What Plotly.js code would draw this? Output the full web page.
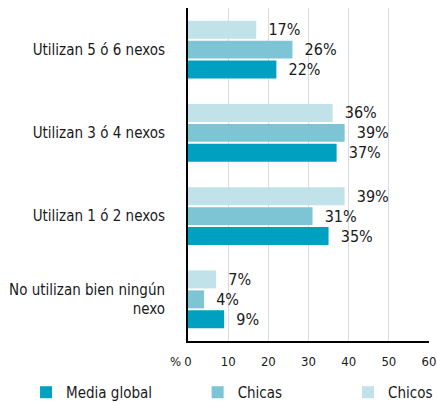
<!DOCTYPE html>
<html>
<head>
<meta charset="utf-8">
<script src="https://cdn.plot.ly/plotly-3.0.1.min.js"></script>
<style>html,body{margin:0;padding:0;background:#fff;}#chart{width:437px;height:403px;}</style>
</head>
<body>
<div id="chart"></div>
<script>
const categories = ['No utilizan bien ningún<br>nexo', 'Utilizan 1 ó 2 nexos', 'Utilizan 3 ó 4 nexos', 'Utilizan 5 ó 6 nexos'];
const seriesNames = ['Media global', 'Chicas', 'Chicos'];
const mediaGlobal = [9, 35, 37, 22];
const chicas = [4, 31, 39, 26];
const chicos = [7, 39, 36, 17];
const xTicks = [0, 10, 20, 30, 40, 50, 60];

const colors = ['#00a0c0', '#7dc5d5', '#c1e2e9'];
const values = [mediaGlobal, chicas, chicos];
const legendIds = ['legend', 'legend2', 'legend3'];
const legendX = [-0.672, 0.04, 0.664];
const FONT = 'DejaVu Sans Condensed, DejaVu Sans, sans-serif';

const traces = values.map((v, i) => ({
  type: 'bar',
  orientation: 'h',
  name: seriesNames[i],
  legend: legendIds[i],
  y: categories,
  x: v,
  marker: {color: colors[i]},
  text: v.map(d => '\u00a0\u00a0' + d + '%'),
  texttemplate: '%{text}',
  textposition: 'outside',
  constraintext: 'none',
  cliponaxis: false,
  textfont: {family: FONT, size: 16, color: '#1a1a1a'},
  hoverinfo: 'none'
}));

const layout = {
  width: 437, height: 403,
  margin: {l: 188, r: 8, t: 8, b: 62, autoexpand: false},
  paper_bgcolor: '#fff', plot_bgcolor: '#fff',
  font: {family: FONT, size: 13, color: '#1a1a1a'},
  barmode: 'group',
  bargap: 0.28,
  bargroupgap: 0.1,
  showlegend: true,
  xaxis: {range: [0, 60], tickvals: xTicks, ticktext: xTicks.map(String),
    showgrid: true, gridcolor: '#dcdcdc', gridwidth: 1,
    showline: true, linecolor: '#000', linewidth: 1.5, zeroline: false,
    ticks: '', ticklabelstandoff: 8, tickfont: {size: 13}, fixedrange: true},
  yaxis: {showline: true, linecolor: '#000', linewidth: 2, ticks: '',
    ticklabelstandoff: 18, tickfont: {size: 15}, showgrid: false, fixedrange: true},
  annotations: [{xref: 'x', yref: 'paper', x: 0, y: 0, yanchor: 'middle', xanchor: 'right',
    text: '%', showarrow: false, xshift: -5, yshift: -20, font: {size: 13}}]
};
legendIds.forEach((id, i) => {
  layout[id] = {orientation: 'h', x: legendX[i], xanchor: 'left', y: -0.105, yanchor: 'top',
    bgcolor: 'rgba(0,0,0,0)', font: {family: FONT, size: 15, color: '#1a1a1a'}};
});

Plotly.newPlot('chart', traces, layout, {displayModeBar: false, staticPlot: true});
</script>
</body>
</html>
